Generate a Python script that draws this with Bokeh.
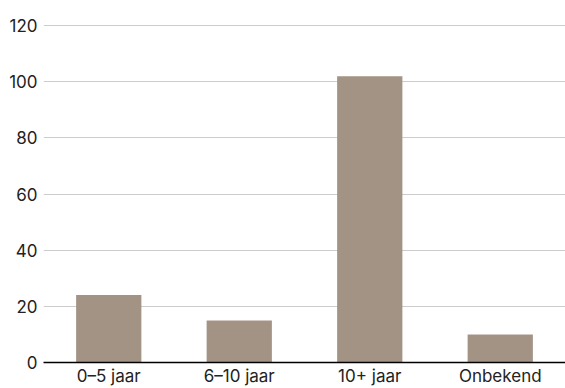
from bokeh.plotting import figure
from bokeh.models import Range1d, FactorRange
from bokeh.embed import file_html
from bokeh.resources import INLINE

categories = ["0–5 jaar", "6–10 jaar", "10+ jaar", "Onbekend"]
values = [24, 15, 102, 10]
y_ticks = [0, 20, 40, 60, 80, 100, 120]

p = figure(
    x_range=FactorRange(*categories, range_padding=0),
    y_range=Range1d(0, 120.4),
    width=565, height=388,
    output_backend="svg", toolbar_location=None,
    min_border_left=43, min_border_right=0, min_border_top=24, min_border_bottom=0,
)
p.outline_line_color = None
p.background_fill_color = "white"
p.border_fill_color = "white"

p.vbar(x=categories, top=values, width=0.5, fill_color="#a39385", line_color=None)

FONT = "Inter"
p.yaxis.ticker = y_ticks
p.yaxis.axis_line_color = None
p.yaxis.major_tick_line_color = None
p.yaxis.minor_tick_line_color = None
p.yaxis.major_tick_out = 0
p.yaxis.major_tick_in = 0
p.yaxis.minor_tick_out = 0
p.yaxis.major_label_text_font = FONT
p.yaxis.major_label_text_font_size = "17px"
p.yaxis.major_label_text_color = "#222222"
p.yaxis.major_label_standoff = 6

p.xaxis.axis_line_color = "black"
p.xaxis.axis_line_width = 1.5
p.xaxis.major_tick_line_color = None
p.xaxis.minor_tick_line_color = None
p.xaxis.major_tick_out = 0
p.xaxis.major_tick_in = 0
p.xaxis.minor_tick_out = 0
p.xaxis.major_label_text_font = FONT
p.xaxis.major_label_text_font_size = "17px"
p.xaxis.major_label_text_color = "#222222"
p.xaxis.major_label_standoff = 3

p.xgrid.grid_line_color = None
p.ygrid.grid_line_color = "#cccccc"
p.ygrid.grid_line_width = 1

open("out.html", "w").write(file_html(p, INLINE))
